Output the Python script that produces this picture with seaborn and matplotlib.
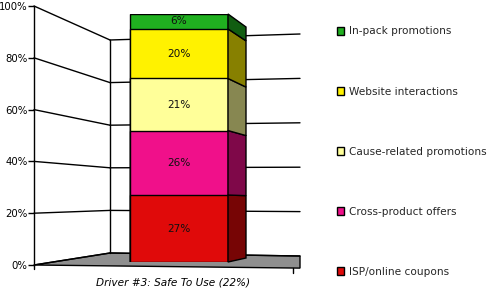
import matplotlib
matplotlib.use("Agg")
import matplotlib.pyplot as plt
import seaborn as sns
import pandas as pd
import numpy as np
from matplotlib.patches import Patch, Polygon
from matplotlib.colors import to_rgb

# ---------------- data ----------------
categories = ["Driver #3: Safe To Use (22%)"]
series = ["ISP/online coupons", "Cross-product offers", "Cause-related promotions",
          "Website interactions", "In-pack promotions"]
values = [27, 26, 21, 20, 6]
colors = ["#E00A0A", "#F0108A", "#FFFF99", "#FFF200", "#20B020"]
tick_values = [0, 20, 40, 60, 80, 100]
tick_labels = ["0%", "20%", "40%", "60%", "80%", "100%"]

# ---------------- style ----------------
sns.set_theme(style="white")
plt.rcParams["font.family"] = ["DejaVu Sans"]
FS = 7.6
LW = 1.0

W, H = 500, 300
fig = plt.figure(figsize=(5, 3), dpi=100)
fig.patch.set_facecolor("white")


def fr(x0, y_top, x1, y_bot):
    return [x0 / W, 1 - y_bot / H, (x1 - x0) / W, (y_bot - y_top) / H]


# perspective geometry of the 3-D walls (pixel space)
XF, XB, XR = 34, 110, 300


def y_front(v):
    return 265 - 2.59 * v


def y_back_left(v):
    return 253 - 2.13 * v


def y_back_right(v):
    return 256 - 2.22 * v


# ---------------- walls & floor ----------------
deco = fig.add_axes([0, 0, 1, 1], zorder=0)
deco.set_xlim(0, W)
deco.set_ylim(H, 0)
deco.axis("off")

floor = Polygon([(XF, y_front(0)), (XB, y_back_left(0)), (XR, y_back_right(0)),
                 (XR, 268.1), (XF, y_front(0))],
                closed=True, facecolor="#8F8F8F", edgecolor="black", linewidth=LW)
deco.add_patch(floor)
for v in tick_values:
    deco.plot([XF, XB], [y_front(v), y_back_left(v)], color="black", lw=LW)
    deco.plot([XB, XR], [y_back_left(v), y_back_right(v)], color="black", lw=LW)
deco.plot([XB, XB], [y_back_left(max(tick_values)), y_back_left(0)], color="black", lw=LW)
# category boundary ticks under the floor front edge
deco.plot([XF, XF], [y_front(0), y_front(0) + 4], color="black", lw=LW)
deco.plot([293, 293], [268, 273], color="black", lw=LW)

# ---------------- value axis ----------------
ax = fig.add_axes(fr(XF, y_front(100), XR, y_front(0)), zorder=1)
ax.set_facecolor("none")
ax.set_ylim(0, 100)
ax.set_xlim(0, 1)
ax.set_yticks(tick_values)
ax.set_yticklabels(tick_labels)
ax.set_xticks([])
for s in ["top", "right", "bottom"]:
    ax.spines[s].set_visible(False)
ax.spines["left"].set_color("black")
ax.spines["left"].set_linewidth(LW)
ax.tick_params(axis="y", direction="out", length=4, width=LW, pad=0.6,
               labelsize=7.3, colors="black", left=True)
ax.set_xlabel(categories[0], fontsize=FS, style="italic", color="black")
ax.xaxis.set_label_coords(0.523, -0.05)

# ---------------- bars ----------------
bx = fig.add_axes(fr(XF, 14, XR, 262), zorder=2)
bx.set_facecolor("none")

cums = np.cumsum(values)
df = pd.DataFrame({"category": categories * len(series),
                   "series": series, "cum": cums})
order = list(reversed(series))  # tallest first, so shorter ones sit on top
pal = dict(zip(series, colors))
sns.barplot(data=df, x="category", y="cum", hue="series", hue_order=order,
            palette=pal, dodge=False, width=0.8, saturation=1,
            edgecolor="black", linewidth=LW, legend=False, ax=bx)

px_per_unit = 98 / 0.8
center_px = 179
bx.set_xlim((XF - center_px) / px_per_unit, (XR - center_px) / px_per_unit)
bx.set_ylim(0, 100)
bx.axis("off")

# side faces (perspective depth)
dx = 18 / px_per_unit


def back_y(v):
    return (262 - (258 - 2.31 * v)) / 2.48


lows = np.concatenate([[0], cums[:-1]])
for lo, hi, col in zip(lows, cums, colors):
    rgb = np.array(to_rgb(col)) * 0.53
    poly = Polygon([(0.4, lo), (0.4 + dx, back_y(lo)), (0.4 + dx, back_y(hi)), (0.4, hi)],
                   closed=True, facecolor=rgb, edgecolor="black", linewidth=LW,
                   clip_on=False, zorder=3)
    bx.add_patch(poly)

for lo, val in zip(lows, values):
    bx.text(0, lo + val / 2, f"{val}%", ha="center", va="center",
            fontsize=FS, color="#111111", zorder=4)

# ---------------- legend ----------------
handles = [Patch(facecolor=c, edgecolor="black", linewidth=LW) for c in reversed(colors)]
fig.legend(handles=handles, labels=list(reversed(series)), loc="upper left",
           bbox_to_anchor=(336.5 / W, 1 - 26.5 / H), frameon=False, fontsize=FS,
           handlelength=0.7, handleheight=0.7, handletextpad=0.45,
           labelspacing=4.74, borderpad=0, borderaxespad=0)

fig.savefig("out.png", dpi=100, facecolor="white")
